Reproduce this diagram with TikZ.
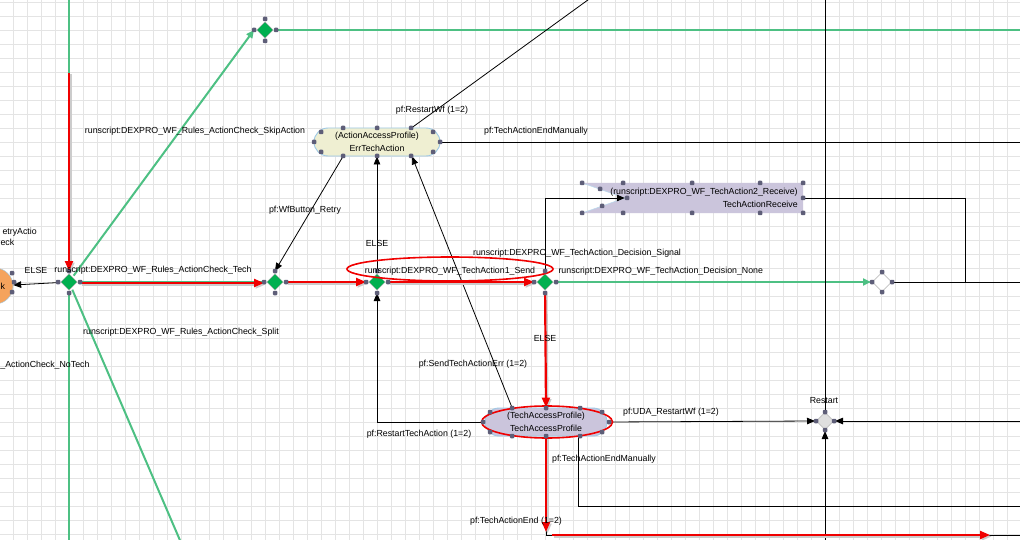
\documentclass[tikz,border=0pt]{standalone}
\usepackage{fontspec}
\setmainfont{Liberation Sans}
\usetikzlibrary{shapes.geometric, arrows.meta, positioning}

\definecolor{gridgray}{HTML}{E4E4E4}
\definecolor{flowgreen}{HTML}{4DC083}
\definecolor{diagreen}{HTML}{00B050}
\definecolor{hired}{HTML}{F00000}
\definecolor{errfill}{HTML}{EFEFD2}
\definecolor{lilac}{HTML}{CBC5DC}
\definecolor{edgeblue}{HTML}{9CC8E6}
\definecolor{handlegray}{HTML}{5E5E78}
\definecolor{startorange}{HTML}{F5A35C}

\begin{document}
\begin{tikzpicture}[x=1pt, y=-1pt, every node/.style={font=\fontsize{8.8}{13}\selectfont}, align=center]
    % Define styles for the blocks
    \tikzstyle{gridline} = [gridgray, line width=0.6pt]
    \tikzstyle{decision} = [diamond, minimum width=18, minimum height=18, inner sep=0pt, outer sep=2pt, fill=diagreen, draw=gray!70]
    \tikzstyle{junction} = [diamond, minimum width=20, minimum height=20, inner sep=0pt, outer sep=1pt, fill=white, draw=gray!50, line width=0.8pt]
    \tikzstyle{activity} = [rectangle, rounded corners=14pt, minimum width=126, minimum height=28, draw=edgeblue, line width=0.9pt]
    \tikzstyle{handle} = [rectangle, rounded corners=1pt, minimum size=4.5pt, inner sep=0pt, fill=handlegray]
    \tikzstyle{wire} = [line width=0.8pt]
    \tikzstyle{arrow} = [line width=0.8pt, -{Triangle[length=8pt,width=6.5pt]}]
    \tikzstyle{flow} = [flowgreen, line width=2pt]
    \tikzstyle{flowarrow} = [flowgreen, line width=2pt, -{Triangle[length=8pt,width=7pt]}]
    \tikzstyle{hilite} = [hired, line width=2.2pt, -{Triangle[length=10pt,width=8pt]}, preaction={draw=black!20, line width=2pt, transform canvas={shift={(1.5pt,-1.5pt)}}}]
    \tikzstyle{ringmark} = [ellipse, draw=hired, line width=1.6pt]

    % Canvas and grid
    \useasboundingbox (0,0) rectangle (1020,540);
    \clip (0,0) rectangle (1020,540);
    \fill[white] (0,0) rectangle (1020,540);
    \foreach \gx in {13,27,...,1020} \draw[gridline] (\gx,0) -- (\gx,540);
    \foreach \gy in {2,16,...,540} \draw[gridline] (0,\gy) -- (1020,\gy);

    % Define nodes in the workflow
    \node (start) [circle, minimum size=36, inner sep=0pt, fill=startorange, draw=edgeblue] at (-5,286) {};
    \node (d1) [decision] at (69,282) {};
    \node (d2) [decision] at (265,30) {};
    \node (d3) [decision] at (275,282) {};
    \node (d4) [decision] at (377,282) {};
    \node (d5) [decision] at (545,282) {};
    \node (d6) [junction] at (882,282) {};
    \node (restart) [junction, fill=gray!25, minimum width=18, minimum height=18] at (825,421) {};
    \node (err) [activity, fill=errfill] at (377,142) {(ActionAccessProfile)\\ErrTechAction};
    \node (tap) [activity, fill=lilac, minimum width=122] at (546,422) {(TechAccessProfile)\\TechAccessProfile};
    \node (recv) [rectangle, minimum width=221, minimum height=30, inner sep=0pt] at (692.5,198) {};
    \fill[lilac] (recv.north west) -- (recv.north east) -- (recv.south east) -- (recv.south west) -- ([xshift=43]recv.west) -- cycle;
    \draw[edgeblue!70, line width=0.6pt] (recv.north west) -- ([xshift=43]recv.west) -- (recv.south west);
    \node (recvtext) [anchor=east, align=right] at ([xshift=-2]recv.east) {(runscript:DEXPRO\_WF\_TechAction2\_Receive)\\TechActionReceive};

    % Free ends of the connectors
    \coordinate (inTop) at (69,-3);
    \coordinate (inRed) at (69,73);
    \coordinate (outNoTech) at (69,545);
    \coordinate (outSplit) at (182,545);
    \coordinate (outSkip) at (1025,30);
    \coordinate (outRestartWf) at (592,-3);
    \coordinate (outEndManual) at (1025,142);
    \coordinate (notch) at ([xshift=43]recv.west);
    \coordinate (recvJoin) at (965,282);
    \coordinate (outRecv) at (1025,282);
    \coordinate (busTop) at (825,-3);
    \coordinate (busBottom) at (825,545);
    \coordinate (busRight) at (1025,421);
    \coordinate (outManual) at (1025,506);
    \coordinate (outEnd) at (1025,535);
    \coordinate (endCorner) at (546,532);
    \coordinate (endStart) at (552,535);
    \coordinate (endTip) at (990,535);

    % Green flows
    \draw[flow] (inTop) -- (d1.north);
    \draw[flow] (d1.south) -- (outNoTech);
    \draw[flow] (d1) -- (outSplit);
    \draw[flowarrow] (d1) -- (d2.west);
    \draw[flow] (d2.east) -- (outSkip);
    \draw[flow] (d1) -- (d3);
    \draw[flow] (d3) -- (d4);
    \draw[flow] (d4) -- (d5);
    \draw[flowarrow] (d5) -- (d6);

    % Plain connectors
    \draw[arrow] (d1) -- (start);
    \draw[wire] ([xshift=35]err.north) -- (outRestartWf);
    \draw[wire] (err.east) -- (outEndManual);
    \draw[arrow] ([xshift=-34]err.south) -- (d3.north);
    \draw[arrow] (d4.north) -- (err.south);
    \draw[arrow] ([xshift=-34]tap.north) -- ([xshift=35]err.south);
    \draw[arrow] (tap.west) -| (d4.south);
    \draw[arrow] (tap.east) -- (restart.west);
    \draw[wire] ([xshift=32]tap.south) |- (outManual);
    \draw[wire] (tap.south) |- (outEnd);
    \draw[arrow] (d5.north) |- (notch);
    \draw[wire] (recv.east) -| (recvJoin);
    \draw[wire] (d6.east) -- (outRecv);
    \draw[wire] (busTop) -- (restart.north);
    \draw[arrow] (busBottom) -- (restart.south);
    \draw[arrow] (busRight) -- (restart.east);

    % Highlighted path
    \draw[hilite] (inRed) -- (d1.north);
    \draw[hilite] ([yshift=-1]d1.east) -- ([yshift=-1]d3.west);
    \draw[hilite] (d3) -- (d4);
    \draw[hilite] (d4) -- (d5);
    \draw[hilite] (d5) -- (tap.north);
    \draw[hilite] (tap.south) -- (endCorner);
    \draw[hilite] (endStart) -- (endTip);
    \node (sendmark) [ringmark, minimum width=206, minimum height=24] at (450,269) {};
    \node (tapmark) [ringmark, minimum width=131, minimum height=32] at (547,422) {};

    % Handles
    \foreach \hx/\hy [count=\i] in {-56/-10, -34/-14, 0/-14, 34/-14, 56/-10, 63/0, 56/10, 34/14, 0/14, -34/14, -56/10, -63/0} {
        \node (errh\i) [handle] at ([shift={(\hx,\hy)}]err) {};
        \node (taph\i) [handle] at ([shift={(\hx,\hy)}]tap) {};
    }
    \foreach \dn in {d1,d2,d3,d4,d5}
        \foreach \hx/\hy [count=\j] in {0/-11, 11/0, 0/11, -11/0}
            \node (\dn-h\j) [handle] at ([shift={(\hx,\hy)}]\dn) {};
    \foreach \hx/\hy [count=\j] in {0/-10, 10/0, 0/10, -10/0} {
        \node (d6-h\j) [handle] at ([shift={(\hx,\hy)}]d6) {};
        \node (restart-h\j) [handle] at ([shift={(0.9*\hx,0.9*\hy)}]restart) {};
    }
    \foreach \hx/\hy [count=\i] in {582/183, 623/183, 692/183, 760/183, 803/183, 803/198, 803/213, 760/213, 692/213, 623/213, 582/213, 600/189, 602/206, 627/198}
        \node (recvh\i) [handle] at (\hx,\hy) {};
    \foreach \hx/\hy [count=\i] in {12/273, 14/282, 12/292}
        \node (starth\i) [handle] at (\hx,\hy) {};

    % Labels
    \node (lblRetry) [anchor=west] at (-1,232) {etryActio};
    \node (lblCheck) [anchor=west] at (-3,242) {eck};
    \node (lblStart) [anchor=west] at (-3,286) {k};
    \node (lblElse1) at (36,270) {ELSE};
    \node (lblTech) at (153,270) {runscript:DEXPRO\_WF\_Rules\_ActionCheck\_Tech};
    \node (lblSkip) at (195,131) {runscript:DEXPRO\_WF\_Rules\_ActionCheck\_SkipAction};
    \node (lblSplit) at (181,332) {runscript:DEXPRO\_WF\_Rules\_ActionCheck\_Split};
    \node (lblNoTech) [anchor=east] at (93,365) {\_ActionCheck\_NoTech};
    \node (lblRestartWf) at (432,110) {pf:RestartWf (1=2)};
    \node (lblEndManual1) at (536,131) {pf:TechActionEndManually};
    \node (lblRetryBtn) at (305,210) {pf:WfButton\_Retry};
    \node (lblElse2) at (377,243) {ELSE};
    \node (lblSignal) at (577,253) {runscript:DEXPRO\_WF\_TechAction\_Decision\_Signal};
    \node (lblSend) at (450,271) {runscript:DEXPRO\_WF\_TechAction1\_Send};
    \node (lblNone) [anchor=west] at (555,271) {runscript:DEXPRO\_WF\_TechAction\_Decision\_None};
    \node (lblElse3) at (545,338) {ELSE};
    \node (lblSendErr) at (473,364) {pf:SendTechActionErr (1=2)};
    \node (lblRestartTech) at (419,434) {pf:RestartTechAction (1=2)};
    \node (lblUda) at (671,412) {pf:UDA\_RestartWf (1=2)};
    \node (lblRestart) at (824,401) {Restart};
    \node (lblEndManual2) at (604,459) {pf:TechActionEndManually};
    \node (lblEnd) at (516,521) {pf:TechActionEnd (1=2)};

\end{tikzpicture}
\end{document}
